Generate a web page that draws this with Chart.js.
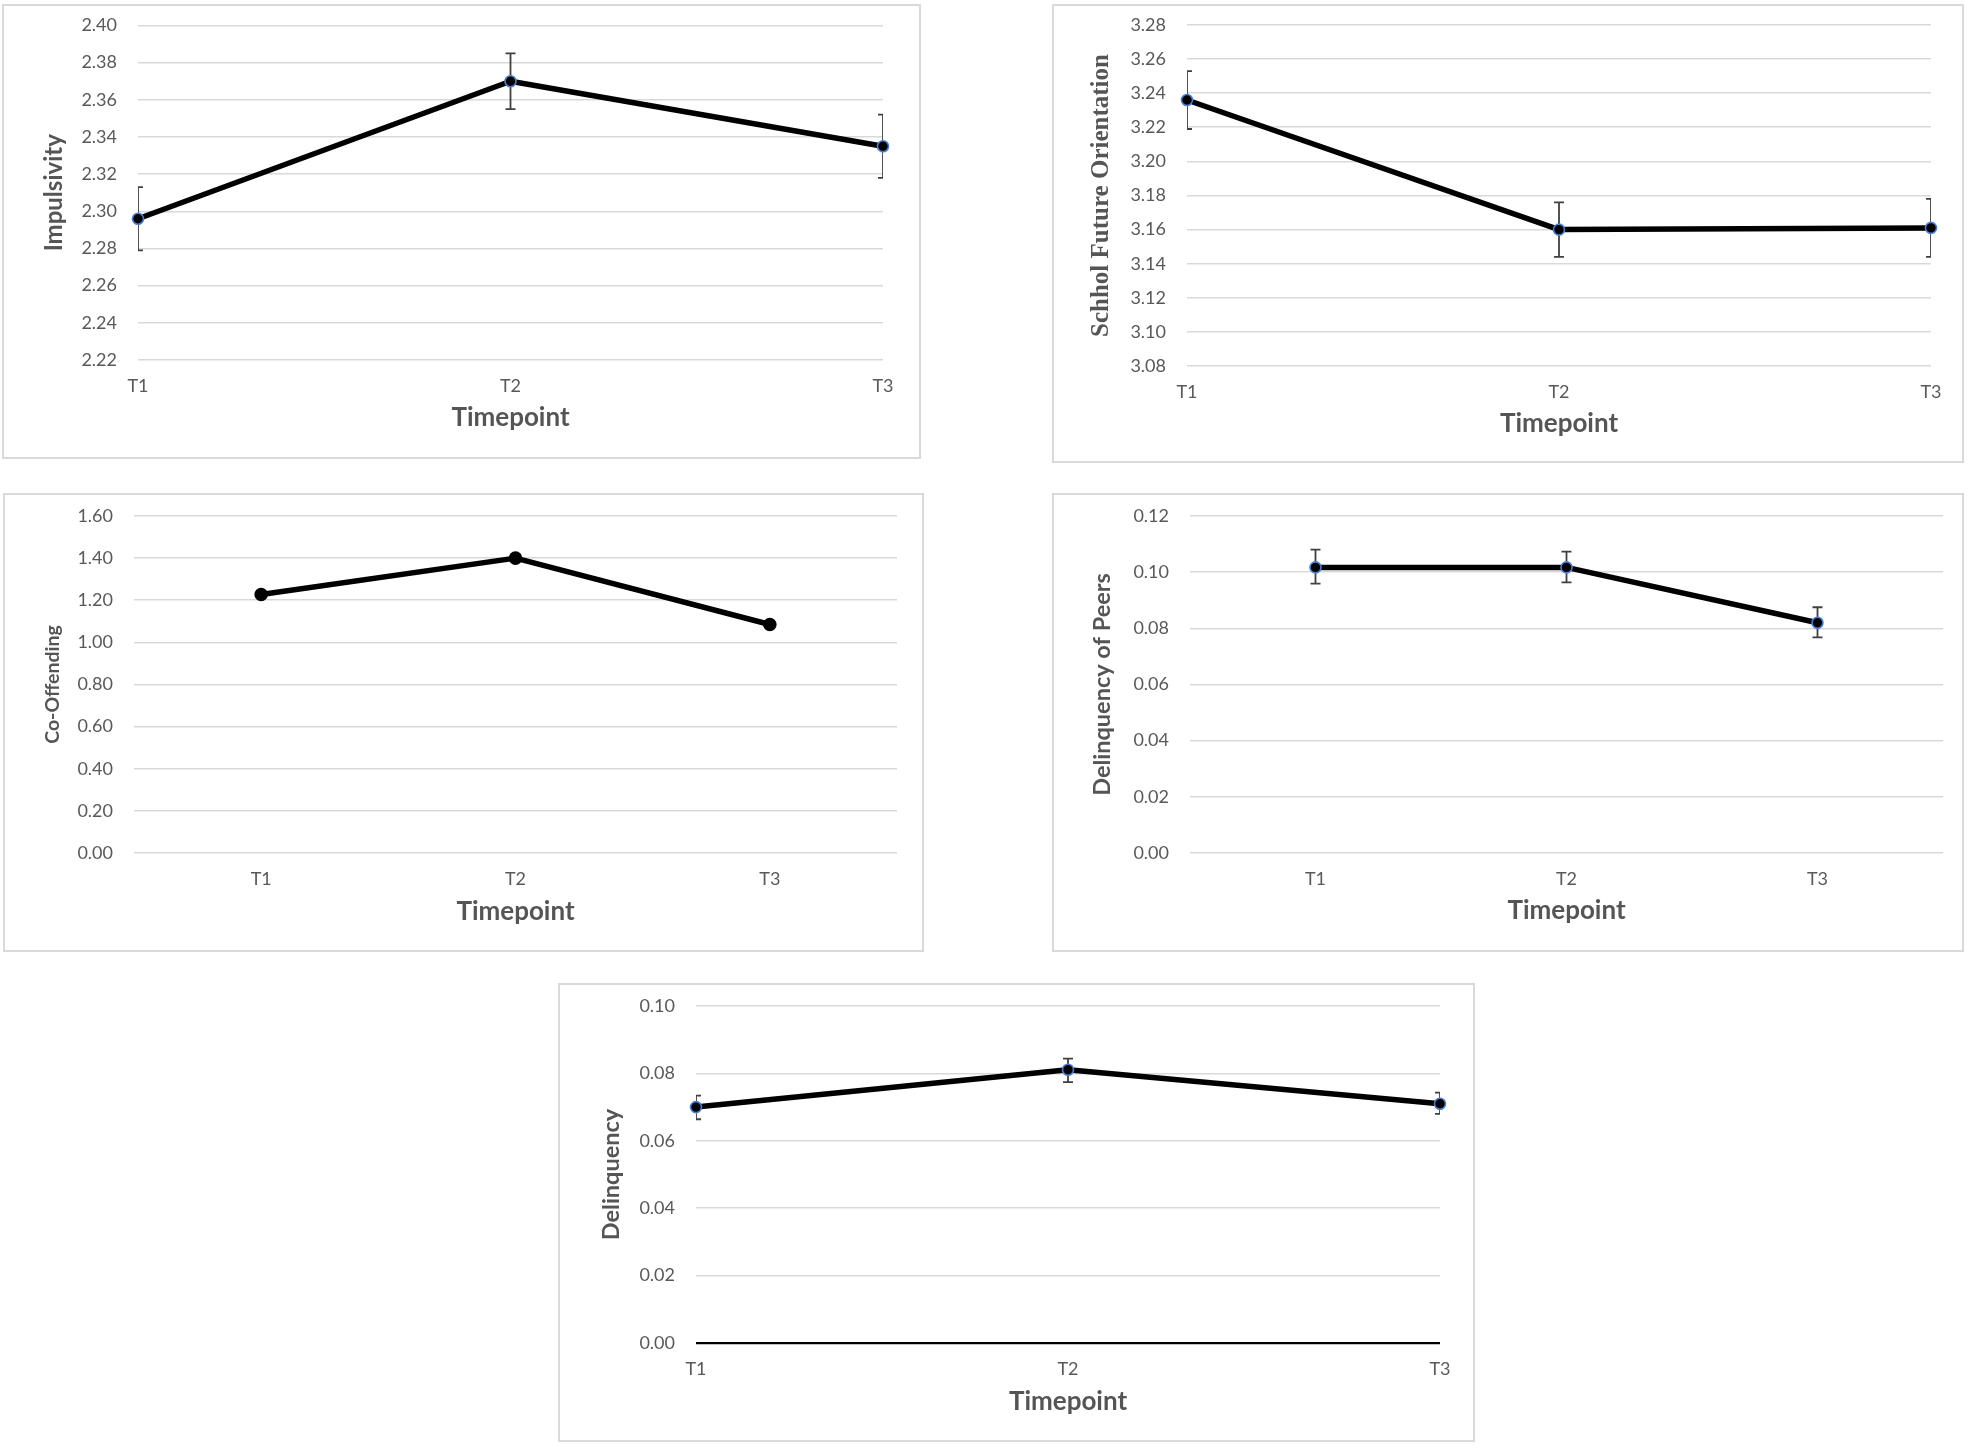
<!DOCTYPE html>
<html>
<head>
<meta charset="utf-8">
<script src="https://cdn.jsdelivr.net/npm/chart.js@4.4.1/dist/chart.umd.min.js"></script>
<style>
  html, body { margin: 0; padding: 0; background: #fff; }
  body { width: 1968px; height: 1445px; position: relative; overflow: hidden; }
  .panel { position: absolute; border: 2px solid #d9d9d9; box-sizing: border-box; }
  .panel canvas { position: absolute; left: 0; top: 0; }
</style>
</head>
<body>
<div class="panel" id="p1"><canvas id="c1"></canvas></div>
<div class="panel" id="p2"><canvas id="c2"></canvas></div>
<div class="panel" id="p3"><canvas id="c3"></canvas></div>
<div class="panel" id="p4"><canvas id="c4"></canvas></div>
<div class="panel" id="p5"><canvas id="c5"></canvas></div>
<script>
const timepoints = ['T1', 'T2', 'T3'];

const impulsivity = [2.296, 2.370, 2.335];
const impulsivityLow = [2.279, 2.355, 2.318];
const impulsivityHigh = [2.313, 2.385, 2.352];
const impulsivityTicks = [2.22, 2.40, 0.02];

const schoolFuture = [3.236, 3.160, 3.161];
const schoolFutureLow = [3.219, 3.144, 3.144];
const schoolFutureHigh = [3.253, 3.176, 3.178];
const schoolFutureTicks = [3.08, 3.28, 0.02];

const coOffending = [1.227, 1.400, 1.085];
const coOffendingTicks = [0, 1.6, 0.2];

const peerDelinquency = [0.1017, 0.1017, 0.0820];
const peerDelinquencyLow = [0.0959, 0.0964, 0.0768];
const peerDelinquencyHigh = [0.1080, 0.1073, 0.0875];
const peerDelinquencyTicks = [0, 0.12, 0.02];

const delinquency = [0.0700, 0.0811, 0.0710];
const delinquencyLow = [0.0664, 0.0774, 0.0680];
const delinquencyHigh = [0.0734, 0.0844, 0.0743];
const delinquencyTicks = [0, 0.10, 0.02];

const TICK_FONT = "Lato, 'Liberation Sans', sans-serif";
const TITLE_FONT = "Lato, 'Liberation Sans', sans-serif";
const TEXT_GREY = '#595959';
const GRID_GREY = '#d9d9d9';
const TICK_SIZE = 18;
const X_TITLE_SIZE = 26;

// error bars drawn under the line, clipped to the plot like Excel does
const errorBars = {
  id: 'errorBars',
  beforeDatasetsDraw(chart, args, opts) {
    if (!opts.low) return;
    const { ctx, chartArea, scales: { x, y } } = chart;
    ctx.save();
    ctx.beginPath();
    ctx.rect(chartArea.left, chartArea.top, chartArea.width, chartArea.height);
    ctx.clip();
    ctx.strokeStyle = '#404040';
    ctx.lineWidth = 1.8;
    opts.low.forEach((lo, i) => {
      const px = x.getPixelForValue(i);
      const y1 = y.getPixelForValue(lo);
      const y2 = y.getPixelForValue(opts.high[i]);
      ctx.beginPath();
      ctx.moveTo(px, y1); ctx.lineTo(px, y2);
      ctx.moveTo(px - 5, y1); ctx.lineTo(px + 5, y1);
      ctx.moveTo(px - 5, y2); ctx.lineTo(px + 5, y2);
      ctx.stroke();
    });
    ctx.restore();
  },
};

const makePanel = (id, box, plot, s) => {
  const wrap = document.getElementById('p' + id);
  wrap.style.left = box[0] + 'px';
  wrap.style.top = box[1] + 'px';
  wrap.style.width = (box[2] - box[0]) + 'px';
  wrap.style.height = (box[3] - box[1]) + 'px';
  const ox = box[0] + 2;
  const oy = box[1] + 2;
  const cw = box[2] - box[0] - 4;
  const ch = box[3] - box[1] - 4;
  const canvas = document.getElementById('c' + id);
  canvas.width = cw;
  canvas.height = ch;
  canvas.style.width = cw + 'px';
  canvas.style.height = ch + 'px';

  const yWidth = plot[0] - ox;
  const xHeight = ch - (plot[3] - oy);
  const yTitleSize = s.yTitleSize;

  const config = {
    type: 'line',
    data: {
      labels: timepoints,
      datasets: [
        {
          data: s.data,
          borderColor: '#000',
          borderWidth: 5.5,
          borderJoinStyle: 'round',
          borderCapStyle: 'round',
          pointRadius: s.pointRadius,
          pointBackgroundColor: '#000',
          pointBorderColor: s.pointBorder,
          pointBorderWidth: 1.6,
          tension: 0,
          fill: false,
          clip: false,
        },
      ],
    },
    options: {
      responsive: false,
      animation: false,
      devicePixelRatio: 1,
      layout: {
        padding: {
          left: 0,
          bottom: 0,
          top: plot[1] - oy,
          right: cw - (plot[2] - ox),
        },
      },
      plugins: {
        legend: { display: false },
        tooltip: { enabled: false },
        errorBars: { low: s.low, high: s.high },
      },
      scales: {
        x: {
          offset: s.offset,
          afterFit: (scale) => { scale.height = xHeight; },
          grid: { display: false, drawTicks: false },
          border: { display: false },
          ticks: {
            padding: 15,
            color: TEXT_GREY,
            font: { family: TICK_FONT, size: TICK_SIZE },
          },
          title: {
            display: true,
            text: 'Timepoint',
            color: '#555',
            font: { family: TITLE_FONT, size: X_TITLE_SIZE, weight: 'bold' },
            padding: { top: 0, bottom: ch - (s.xTitleY - oy) - X_TITLE_SIZE * 0.6 },
          },
        },
        y: {
          min: s.ticks[0],
          max: s.ticks[1],
          afterFit: (scale) => { scale.width = yWidth; },
          grid: {
            drawTicks: true,
            tickLength: 21,
            tickColor: 'transparent',
            color: (c) => (s.zeroAxis && c.tick.value === 0 ? '#000' : GRID_GREY),
            lineWidth: (c) => (s.zeroAxis && c.tick.value === 0 ? 2.2 : 1.6),
          },
          border: { display: false },
          ticks: {
            stepSize: s.ticks[2],
            padding: 0,
            color: TEXT_GREY,
            font: { family: TICK_FONT, size: TICK_SIZE },
            callback: (v) => Number(v).toFixed(2),
          },
          title: {
            display: true,
            text: s.yTitle,
            color: '#555',
            font: { family: s.yTitleFont || TITLE_FONT, size: yTitleSize, weight: 'bold' },
            padding: { top: s.yTitleX - ox - yTitleSize * 0.6, bottom: 0 },
          },
        },
      },
    },
    plugins: [errorBars],
  };

  new Chart(canvas.getContext('2d'), config);
};

makePanel(1, [2, 4, 921, 459], [138, 25.5, 883, 360], {
  data: impulsivity, low: impulsivityLow, high: impulsivityHigh, ticks: impulsivityTicks,
  yTitle: 'Impulsivity', yTitleSize: 24, yTitleX: 54, xTitleY: 418,
  offset: false, pointRadius: 5.5, pointBorder: '#4a7fd4',
});

makePanel(2, [1052, 4, 1964, 463], [1187, 25, 1931, 366], {
  data: schoolFuture, low: schoolFutureLow, high: schoolFutureHigh, ticks: schoolFutureTicks,
  yTitle: 'Schhol Future Orientation', yTitleSize: 25, yTitleX: 1102, xTitleY: 424,
  yTitleFont: "'Liberation Serif', 'DejaVu Serif', serif",
  offset: false, pointRadius: 5.5, pointBorder: '#4a7fd4',
});

makePanel(3, [3, 493, 924, 952], [134, 516, 897, 853], {
  data: coOffending, ticks: coOffendingTicks,
  yTitle: 'Co-Offending', yTitleSize: 19.5, yTitleX: 53, xTitleY: 912,
  offset: true, pointRadius: 6, pointBorder: '#000',
});

makePanel(4, [1052, 493, 1964, 952], [1190, 516, 1943, 853], {
  data: peerDelinquency, low: peerDelinquencyLow, high: peerDelinquencyHigh, ticks: peerDelinquencyTicks,
  yTitle: 'Delinquency of Peers', yTitleSize: 23.5, yTitleX: 1102, xTitleY: 911,
  offset: true, pointRadius: 5.5, pointBorder: '#4a7fd4',
});

makePanel(5, [558, 983, 1475, 1442], [696, 1006, 1440, 1343], {
  data: delinquency, low: delinquencyLow, high: delinquencyHigh, ticks: delinquencyTicks,
  yTitle: 'Delinquency', yTitleSize: 23.5, yTitleX: 611, xTitleY: 1402,
  offset: false, pointRadius: 5.5, pointBorder: '#4a7fd4', zeroAxis: true,
});
</script>
</body>
</html>
